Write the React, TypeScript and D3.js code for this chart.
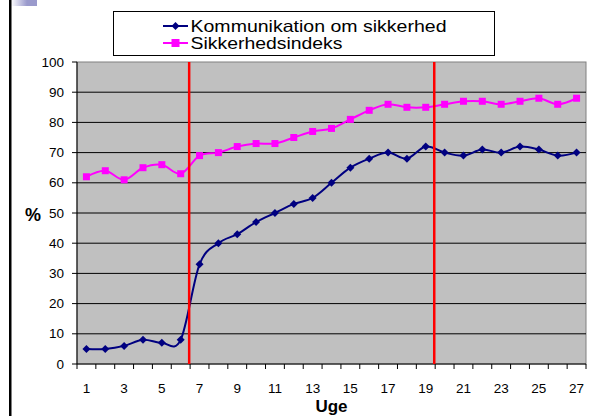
import React from "react";
import * as d3 from "d3";

// uge (week) numbers
const weeks = d3.range(1, 28);
const kommunikation = [5, 5, 6, 8, 7, 8, 33, 40, 43, 47, 50, 53, 55, 60, 65, 68, 70, 68, 72, 70, 69, 71, 70, 72, 71, 69, 70];
const sikkerhedsindeks = [62, 64, 61, 65, 66, 63, 69, 70, 72, 73, 73, 75, 77, 78, 81, 84, 86, 85, 85, 86, 87, 87, 86, 87, 88, 86, 88];
const yTicks = [0, 10, 20, 30, 40, 50, 60, 70, 80, 90, 100];
const xLabels = weeks.filter((w) => w % 2 === 1);
const phaseBreaks = [6.45, 19.45];
const seriesNames = ["Kommunikation om sikkerhed", "Sikkerhedsindeks"];

const W = 592;
const H = 416;
const plot = { left: 77, right: 586, top: 62, bottom: 364 };
const FONT = "'Liberation Sans', Arial, sans-serif";

export default function App() {
  const x = d3.scaleLinear().domain([0.5, 27.5]).range([plot.left, plot.right]);
  const y = d3.scaleLinear().domain([0, 100]).range([plot.bottom, plot.top]);

  const line = d3
    .line<number>()
    .x((_, i) => x(weeks[i]))
    .y((d) => y(d))
    .curve(d3.curveCardinal.tension(0));

  const diamond = (cx: number, cy: number, r: number) =>
    `M${cx},${cy - r}L${cx + r},${cy}L${cx},${cy + r}L${cx - r},${cy}Z`;

  const boundaries = d3.range(0, 28).map((i) => x(i + 0.5));

  return (
    <svg width={W} height={H} style={{ position: "absolute", left: 0, top: 0 }} fontFamily={FONT}>
      <defs>
        <linearGradient id="deco" x1="0" x2="1" y1="0" y2="0">
          <stop offset="0" stopColor="#ffffff" />
          <stop offset="1" stopColor="#9a9acc" />
        </linearGradient>
      </defs>
      <rect x={0} y={0} width={W} height={H} fill="#fff" />
      {/* slide decoration */}
      <rect x={11} y={0} width={16} height={6} fill="url(#deco)" />
      <rect x={27} y={0} width={10} height={6} fill="#9a9acc" />
      <rect x={9} y={0} width={2.5} height={H} fill="#000" />

      {/* plot area */}
      <rect x={plot.left} y={plot.top} width={plot.right - plot.left} height={plot.bottom - plot.top} fill="#c0c0c0" stroke="#808080" strokeWidth={1} />
      {yTicks.slice(1, -1).map((t) => (
        <line key={t} x1={plot.left} x2={plot.right} y1={y(t)} y2={y(t)} stroke="#000" strokeWidth={1} />
      ))}

      {/* axes */}
      <line x1={plot.left} x2={plot.left} y1={plot.top} y2={plot.bottom} stroke="#000" />
      <line x1={plot.left} x2={plot.right} y1={plot.bottom} y2={plot.bottom} stroke="#000" />
      {yTicks.map((t) => (
        <g key={"yt" + t}>
          <line x1={plot.left - 5} x2={plot.left} y1={y(t)} y2={y(t)} stroke="#000" />
          <text x={64} y={y(t) + 4.5} textAnchor="end" fontSize={13.5}>{t}</text>
        </g>
      ))}
      {boundaries.map((bx, i) => (
        <line key={"xt" + i} x1={bx} x2={bx} y1={plot.bottom} y2={plot.bottom + 5} stroke="#000" />
      ))}
      {xLabels.map((w) => (
        <text key={"xl" + w} x={x(w)} y={393} textAnchor="middle" fontSize={13.5}>{w}</text>
      ))}
      <text x={(plot.left + plot.right) / 2} y={412} textAnchor="middle" fontSize={17} fontWeight="bold">Uge</text>
      <text x={33} y={221} textAnchor="middle" fontSize={18} fontWeight="bold">%</text>

      {/* series */}
      <path d={line(sikkerhedsindeks) || ""} fill="none" stroke="#ff00ff" strokeWidth={2} />
      {sikkerhedsindeks.map((v, i) => (
        <rect key={"s" + i} x={x(weeks[i]) - 3.5} y={y(v) - 3.5} width={7} height={7} fill="#ff00ff" />
      ))}
      <path d={line(kommunikation) || ""} fill="none" stroke="#000080" strokeWidth={2} />
      {kommunikation.map((v, i) => (
        <path key={"k" + i} d={diamond(x(weeks[i]), y(v), 4)} fill="#000080" />
      ))}

      {/* phase markers */}
      {phaseBreaks.map((b) => (
        <line key={"pb" + b} x1={x(b)} x2={x(b)} y1={plot.top} y2={plot.bottom} stroke="#ff0000" strokeWidth={2.5} />
      ))}

      {/* legend */}
      <rect x={113.5} y={11.5} width={381} height={44} fill="#fff" stroke="#000" strokeWidth={1} />
      <line x1={163} x2={188} y1={26} y2={26} stroke="#000080" strokeWidth={2} />
      <path d={diamond(175.5, 26, 4)} fill="#000080" />
      <text x={190.5} y={32} fontSize={16.5} textLength={256} lengthAdjust="spacingAndGlyphs">{seriesNames[0]}</text>
      <line x1={163} x2={188} y1={43} y2={43} stroke="#ff00ff" strokeWidth={2} />
      <rect x={171.5} y={39} width={8} height={8} fill="#ff00ff" />
      <text x={190.5} y={49} fontSize={16.5} textLength={152} lengthAdjust="spacingAndGlyphs">{seriesNames[1]}</text>
    </svg>
  );
}
